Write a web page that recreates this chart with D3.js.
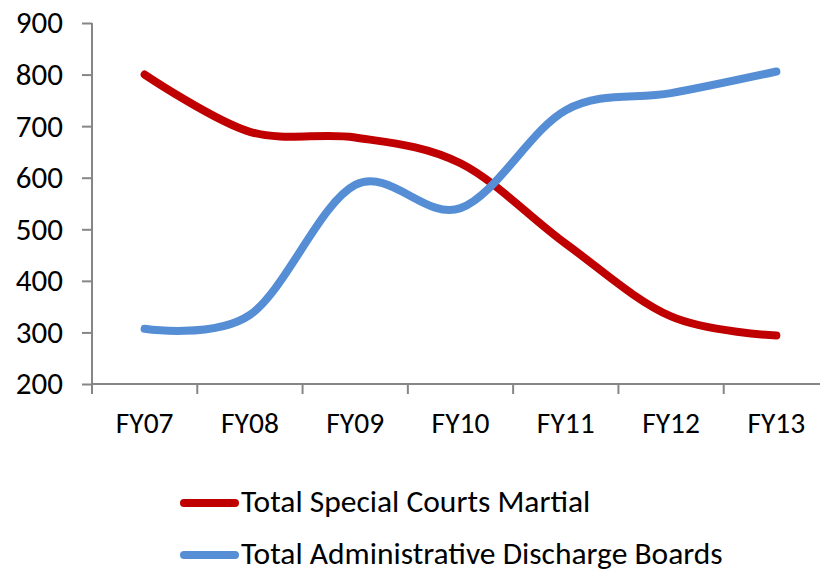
<!DOCTYPE html>
<html lang="en">
	<head>
		<meta charset="utf-8">
		<title>Special Courts Martial vs Administrative Discharge Boards</title>
		<script type="text/javascript" src="https://cdn.jsdelivr.net/npm/d3@7"></script>
		<style type="text/css">
			body { margin: 0; background: #fff; }
			text { font-family: Carlito, Lato, "Open Sans", sans-serif; fill: #000; }
		</style>
	</head>
	<body>
		<script type="text/javascript">

			//Data
			var years = ["FY07", "FY08", "FY09", "FY10", "FY11", "FY12", "FY13"];
			var courtsMartial = [800, 689, 678, 628, 472, 331, 294];
			var dischargeBoards = [307, 334, 586, 541, 731, 764, 806];
			var yTicks = [200, 300, 400, 500, 600, 700, 800, 900];
			var seriesNames = ["Total Special Courts Martial", "Total Administrative Discharge Boards"];
			var seriesColors = ["#C00000", "#558ED5"];

			//Width and height
			var w = 820;
			var h = 571;
			// note: "top" is taken by window.top, so prefix these
			var plotLeft = 92, plotRight = 829, plotTop = 23, plotBottom = 384;

			var svg = d3.select("body")
						.append("svg")
						.attr("width", w)
						.attr("height", h);

			//Scales
			var xScale = d3.scaleBand()
							.domain(years)
							.range([plotLeft, plotRight]);

			var yScale = d3.scaleLinear()
							.domain([200, 900])
							.range([plotBottom, plotTop]);

			var axisColor = "#868686";

			//Y axis
			var yAxis = svg.append("g")
				.attr("transform", "translate(" + plotLeft + ",0)")
				.call(d3.axisLeft(yScale).tickValues(yTicks).tickSize(10).tickPadding(19));
			yAxis.selectAll("line, path").attr("stroke", axisColor).attr("stroke-width", 2);
			yAxis.select(".domain").attr("d", "M0," + plotTop + "V" + plotBottom);
			yAxis.selectAll("text")
				.attr("font-size", "31px")
				.attr("font-family", "Carlito, Lato, sans-serif");

			//X axis
			var xAxis = svg.append("g")
				.attr("transform", "translate(0," + plotBottom + ")")
				.call(d3.axisBottom(xScale).tickSize(0).tickPadding(28));
			xAxis.select(".domain").attr("stroke", axisColor).attr("stroke-width", 2)
				.attr("d", "M" + plotLeft + ",0H" + plotRight);
			xAxis.selectAll("text")
				.attr("font-size", "29.5px")
				.attr("font-family", "Carlito, Lato, sans-serif");

			//tick marks at band edges
			var edges = years.map(function(d) { return xScale(d); }).concat([plotRight]);
			xAxis.selectAll(".edge")
				.data(edges)
				.enter()
				.append("line")
				.attr("class", "edge")
				.attr("x1", function(d) { return d; })
				.attr("x2", function(d) { return d; })
				.attr("y1", 0)
				.attr("y2", 10)
				.attr("stroke", axisColor)
				.attr("stroke-width", 2);

			//Lines
			var line = d3.line()
				.x(function(d, i) { return xScale(years[i]) + xScale.bandwidth() / 2; })
				.y(function(d) { return yScale(d); })
				.curve(d3.curveCardinal.tension(0));

			[courtsMartial, dischargeBoards].forEach(function(series, k) {
				svg.append("path")
					.attr("d", line(series))
					.attr("fill", "none")
					.attr("stroke", seriesColors[k])
					.attr("stroke-width", 8)
					.attr("stroke-linecap", "round")
					.attr("stroke-linejoin", "round");
			});

			//Legend
			var legend = svg.selectAll(".legend")
				.data(seriesNames)
				.enter()
				.append("g")
				.attr("class", "legend")
				.attr("transform", function(d, i) { return "translate(0," + (503 + i * 52) + ")"; });

			legend.append("line")
				.attr("x1", 184).attr("x2", 235)
				.attr("y1", 0).attr("y2", 0)
				.attr("stroke", function(d, i) { return seriesColors[i]; })
				.attr("stroke-width", 8)
				.attr("stroke-linecap", "round");

			legend.append("text")
				.attr("x", 241)
				.attr("y", 9)
				.attr("font-size", "31.5px")
				.text(function(d) { return d; });

		</script>
	</body>
</html>
